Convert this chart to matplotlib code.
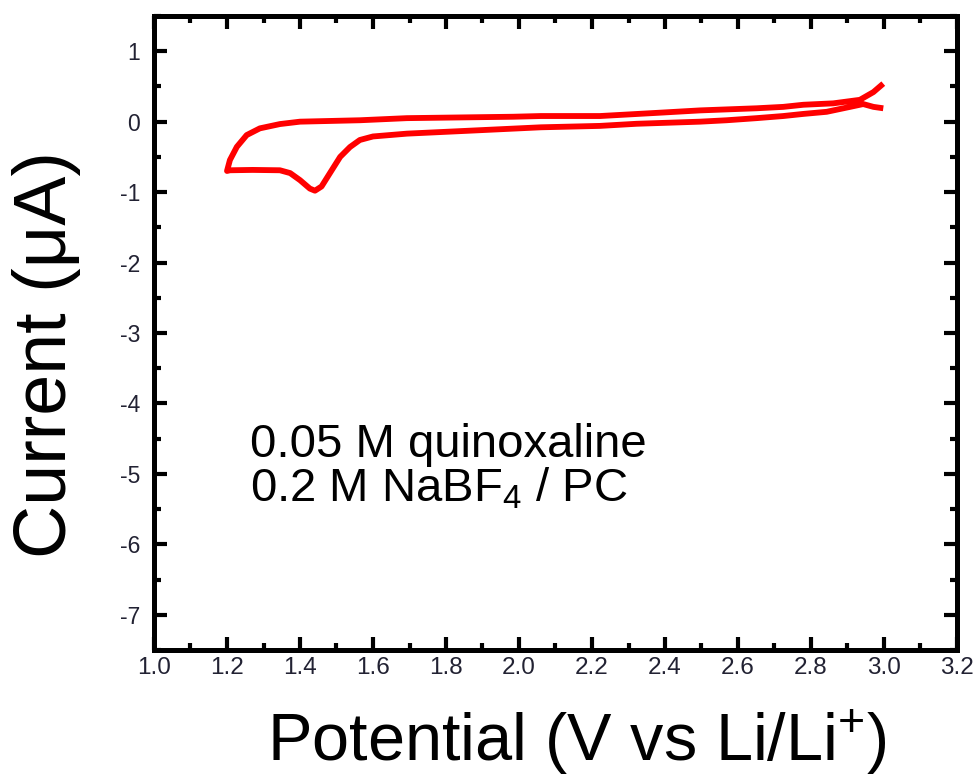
import matplotlib
matplotlib.use("Agg")
import matplotlib.pyplot as plt
from matplotlib.ticker import MultipleLocator, FormatStrFormatter

plt.rcParams['font.family'] = ['Liberation Sans', 'DejaVu Sans']
plt.rcParams['mathtext.fontset'] = 'custom'
plt.rcParams['mathtext.rm'] = 'Liberation Sans'
plt.rcParams['mathtext.it'] = 'Liberation Sans:italic'
plt.rcParams['axes.unicode_minus'] = False

# Cathodic sweep: 3.0 V -> 1.2 V
cath_v = [2.998, 2.971, 2.943, 2.907, 2.843, 2.779, 2.724, 2.651, 2.569, 2.496,
          2.322, 2.222, 2.06, 1.857, 1.693, 1.60, 1.564, 1.537, 1.51, 1.482,
          1.459, 1.441, 1.427, 1.40, 1.373, 1.345, 1.27, 1.208, 1.2]
cath_i = [0.19, 0.21, 0.25, 0.21, 0.14, 0.11, 0.08, 0.05, 0.02, 0.0,
          -0.03, -0.06, -0.08, -0.13, -0.17, -0.21, -0.26, -0.36, -0.50, -0.73,
          -0.92, -0.98, -0.95, -0.83, -0.73, -0.69, -0.685, -0.69, -0.70]
# Anodic sweep: 1.2 V -> 3.0 V
anod_v = [1.2, 1.208, 1.227, 1.254, 1.29, 1.345, 1.40, 1.564, 1.693, 1.984,
          2.06, 2.222, 2.395, 2.496, 2.651, 2.724, 2.779, 2.861, 2.934, 2.971,
          2.998]
anod_i = [-0.70, -0.545, -0.357, -0.19, -0.095, -0.034, 0.0, 0.02, 0.05, 0.07,
          0.08, 0.08, 0.13, 0.16, 0.19, 0.21, 0.24, 0.26, 0.31, 0.42,
          0.54]

xlabel = "Potential (V vs Li/Li$^{+}$)"
ylabel = "Current (\u03bcA)"
note1 = "0.05 M quinoxaline"
note2 = "0.2 M NaBF$_{4}$ / PC"

fig = plt.figure(figsize=(9.79, 7.76), dpi=100)
ax = fig.add_axes([154/979, 1-650/776, (957-154)/979, (650-16)/776])

ax.plot(cath_v + anod_v, cath_i + anod_i, color='#ff0000', lw=4.2,
        solid_joinstyle='round', solid_capstyle='butt')

ax.set_xlim(1.0, 3.2)
ax.set_ylim(-7.5, 1.5)
ax.xaxis.set_major_locator(MultipleLocator(0.2))
ax.xaxis.set_minor_locator(MultipleLocator(0.1))
ax.yaxis.set_major_locator(MultipleLocator(1))
ax.yaxis.set_minor_locator(MultipleLocator(0.5))
ax.xaxis.set_major_formatter(FormatStrFormatter('%.1f'))
ax.yaxis.set_major_formatter(FormatStrFormatter('%d'))

for s in ax.spines.values():
    s.set_linewidth(3.6)
ax.tick_params(which='both', direction='in', top=True, right=True, width=3)
ax.tick_params(which='major', length=9.5)
ax.tick_params(which='minor', length=5)
ax.tick_params(axis='x', which='major', labelsize=17.5, pad=5, labelcolor='#222233')
ax.tick_params(axis='y', which='major', labelsize=16.5, pad=10, labelcolor='#222233')

fig.text(577/979, 1-761/776, xlabel, fontsize=48, ha='center', va='baseline')
fig.text(47/979, 1-355/776, ylabel, fontsize=53, ha='center', va='center', rotation=90)
fig.text(250/979, 1-456.7/776, note1, fontsize=34, ha='left', va='baseline')
fig.text(250/979, 1-501.7/776, note2, fontsize=34, ha='left', va='baseline')

fig.savefig('out.png', dpi=100)
